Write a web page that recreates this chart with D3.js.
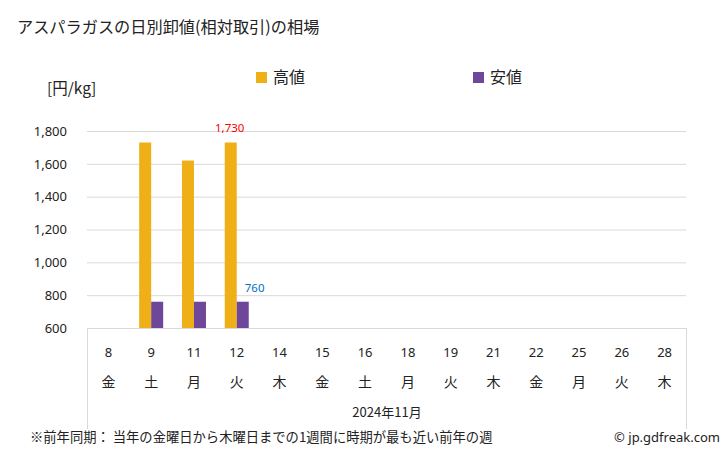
<!DOCTYPE html>
<html><head><meta charset="utf-8">
<script src="https://cdn.jsdelivr.net/npm/d3@7"></script>
<style>body{margin:0;background:#fff}svg{font-family:"Noto Sans CJK JP","Noto Sans",sans-serif}</style>
</head><body>
<script>
const days = ["8","9","11","12","14","15","16","18","19","21","22","25","26","28"];
const weekdays = ["金","土","月","火","木","金","土","月","火","木","金","月","火","木"];
const highValues = [null,1730,1620,1730,null,null,null,null,null,null,null,null,null,null];
const lowValues = [null,760,760,760,null,null,null,null,null,null,null,null,null,null];
const yTicks = [600,800,1000,1200,1400,1600,1800];
const seriesNames = ["高値","安値"];
const colors = ["#EEB016","#6F479A"];

const W=728,H=450;
const svg=d3.select("body").append("svg").attr("width",W).attr("height",H);
const x=d3.scaleBand().domain(days).range([87,686]);
const y=d3.scaleLinear().domain([600,1800]).range([328,131]);

svg.append("text").attr("x",17).attr("y",33).attr("font-size",16.2).attr("fill","#222").text("アスパラガスの日別卸値(相対取引)の相場");
svg.append("text").attr("x",47).attr("y",94).attr("font-size",15.5).attr("fill","#222").text("[円/kg]");

// grid
const yAxis=d3.axisLeft(y).tickValues(yTicks).tickSize(-(686-87)).tickFormat(d3.format(","));
const ga=svg.append("g").attr("transform","translate(87,0)").call(yAxis);
ga.select(".domain").remove();
ga.selectAll(".tick line").attr("stroke","#d9d9d9");
ga.selectAll(".tick text").attr("x",-20).attr("font-size",13).attr("fill","#222").attr("font-family","'Noto Sans',sans-serif");

// bottom box
svg.append("line").attr("x1",87).attr("x2",686).attr("y1",328.5).attr("y2",328.5).attr("stroke","#d9d9d9");
svg.append("line").attr("x1",87.5).attr("x2",87.5).attr("y1",328).attr("y2",429).attr("stroke","#d9d9d9");
svg.append("line").attr("x1",686.5).attr("x2",686.5).attr("y1",328).attr("y2",429).attr("stroke","#d9d9d9");

const bw=12;
const hData=days.map((d,i)=>({d,v:highValues[i]})).filter(e=>e.v!=null);
const lData=days.map((d,i)=>({d,v:lowValues[i]})).filter(e=>e.v!=null);
svg.selectAll(".hb").data(hData).enter().append("rect")
 .attr("x",e=>x(e.d)+x.bandwidth()/2-bw).attr("width",bw)
 .attr("y",e=>y(e.v)).attr("height",e=>y(600)-y(e.v)).attr("fill",colors[0]);
svg.selectAll(".lb").data(lData).enter().append("rect")
 .attr("x",e=>x(e.d)+x.bandwidth()/2).attr("width",bw)
 .attr("y",e=>y(e.v)).attr("height",e=>y(600)-y(e.v)).attr("fill",colors[1]);

// labels
const maxH=hData.reduce((a,b)=>b.v>=a.v?b:a);
svg.append("text").attr("x",x(maxH.d)+x.bandwidth()/2-7).attr("y",y(maxH.v)-10).attr("text-anchor","middle")
 .attr("font-size",11.5).attr("fill","#ff0000").attr("font-family","'Noto Sans',sans-serif").text(d3.format(",")(maxH.v));
const lastL=lData[lData.length-1];
svg.append("text").attr("x",x(lastL.d)+x.bandwidth()/2+8).attr("y",y(lastL.v)-10)
 .attr("font-size",11.5).attr("fill","#0070C0").attr("font-family","'Noto Sans',sans-serif").text(d3.format(",")(lastL.v));

// x labels
days.forEach((d,i)=>{
 const cx=x(d)+x.bandwidth()/2;
 svg.append("text").attr("x",cx).attr("y",357).attr("text-anchor","middle").attr("font-size",13).attr("fill","#222").attr("font-family","'Noto Sans',sans-serif").text(d);
 svg.append("text").attr("x",cx).attr("y",387).attr("text-anchor","middle").attr("font-size",14).attr("fill","#222").text(weekdays[i]);
});
svg.append("text").attr("x",387).attr("y",417).attr("text-anchor","middle").attr("font-size",13).attr("fill","#222").text("2024年11月");

// legend
const lx=[256,473];
seriesNames.forEach((n,i)=>{
 svg.append("rect").attr("x",lx[i]).attr("y",72).attr("width",11).attr("height",11).attr("fill",colors[i]);
 svg.append("text").attr("x",lx[i]+17).attr("y",83).attr("font-size",16).attr("fill","#222").text(n);
});

svg.append("text").attr("x",30).attr("y",442).attr("font-size",13.3).attr("fill","#222").text("※前年同期： 当年の金曜日から木曜日までの1週間に時期が最も近い前年の週");
svg.append("text").attr("x",720).attr("y",442).attr("text-anchor","end").attr("font-size",13).attr("fill","#222").attr("font-family","'Noto Sans',sans-serif").text("© jp.gdfreak.com");
</script>
</body></html>
